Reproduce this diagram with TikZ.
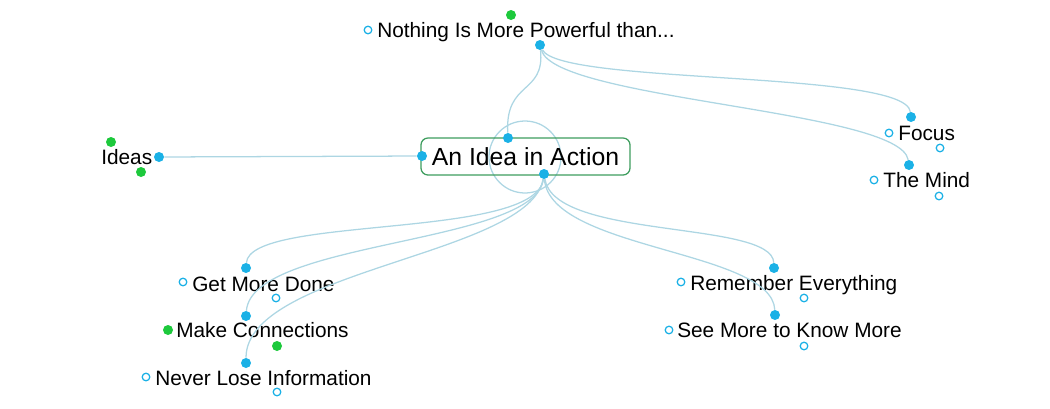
\documentclass[tikz,border=0pt]{standalone}
\usepackage{fontspec}
\setmainfont{Liberation Sans}
\definecolor{mapblue}{HTML}{1BB1E6}
\definecolor{mapgreen}{HTML}{1DC93C}
\definecolor{maplink}{HTML}{ADD6E3}
\definecolor{maproot}{HTML}{3E9D5E}

\begin{document}
\begin{tikzpicture}[x=0.025cm,y=-0.025cm,
    topic/.style={anchor=base west,inner sep=0pt,font=\fontsize{14.8}{16}\selectfont},
    rootbox/.style={draw=maproot,line width=0.9pt,rounded corners=5pt,
      minimum width=5.225cm,minimum height=0.925cm,inner sep=0pt,
      font=\fontsize{17.6}{20}\selectfont},
    dot/.style={circle,fill=mapblue,inner sep=0pt,minimum size=0.25cm},
    seed/.style={circle,fill=mapgreen,inner sep=0pt,minimum size=0.25cm},
    hollow/.style={circle,draw=mapblue,fill=white,line width=0.9pt,inner sep=0pt,minimum size=0.19cm},
    link/.style={draw=maplink,line width=0.9pt}]
  \useasboundingbox (0,0) rectangle (1050,408);
  % central topic
  \draw[link] (525,157) circle (36);
  \node[rootbox] (root) at (525.5,156.5) {An Idea in Action};
  \node[dot] (rootW) at (422,156) {};
  \node[dot] (rootN) at (508,138) {};
  \node[dot] (rootS) at (544,174) {};
  % topics
  \node[topic] (nothing) at (377,37) {Nothing Is More Powerful than...};
  \node[hollow] at (368,30) {};
  \node[seed] at (511,15) {};
  \node[dot] (nothingS) at (540,45) {};
  \node[topic] (ideas) at (101,164) {Ideas};
  \node[seed] at (111,142) {};
  \node[seed] at (141,172) {};
  \node[dot] (ideasE) at (159,157) {};
  \node[topic] (focus) at (898,140) {Focus};
  \node[dot] (focusN) at (911,117) {};
  \node[hollow] at (889,133) {};
  \node[hollow] at (940,148) {};
  \node[topic] (mind) at (883,187) {The Mind};
  \node[dot] (mindN) at (909,165) {};
  \node[hollow] at (874,180) {};
  \node[hollow] at (939,196) {};
  \node[topic] (done) at (192,291) {Get More Done};
  \node[dot] (doneN) at (246,268) {};
  \node[hollow] at (183,282) {};
  \node[hollow] at (276,298) {};
  \node[topic] (connect) at (176,337) {Make Connections};
  \node[dot] (connectN) at (246,316) {};
  \node[seed] at (168,330) {};
  \node[seed] at (277,346) {};
  \node[topic] (never) at (155,385) {Never Lose Information};
  \node[dot] (neverN) at (246,363) {};
  \node[hollow] at (146,377) {};
  \node[hollow] at (277,392) {};
  \node[topic] (remember) at (690,290) {Remember Everything};
  \node[dot] (rememberN) at (774,268) {};
  \node[hollow] at (681,282) {};
  \node[hollow] at (804,298) {};
  \node[topic] (seemore) at (677,337) {See More to Know More};
  \node[dot] (seemoreN) at (775,315) {};
  \node[hollow] at (669,330) {};
  \node[hollow] at (804,346) {};
  % links
  \draw[link] (ideasE) -- (rootW);
  \draw[link] (nothingS) .. controls (545,95) and (505,80) .. (rootN);
  \draw[link] (nothingS) .. controls (560,85) and (905,70) .. (focusN);
  \draw[link] (nothingS) .. controls (555,100) and (900,110) .. (mindN);
  \draw[link] (rootS) .. controls (535,240) and (250,215) .. (doneN);
  \draw[link] (rootS) .. controls (535,245) and (252,240) .. (connectN);
  \draw[link] (rootS) .. controls (530,255) and (246,270) .. (neverN);
  \draw[link] (rootS) .. controls (555,240) and (772,220) .. (rememberN);
  \draw[link] (rootS) .. controls (550,250) and (772,250) .. (seemoreN);
\end{tikzpicture}
\end{document}
